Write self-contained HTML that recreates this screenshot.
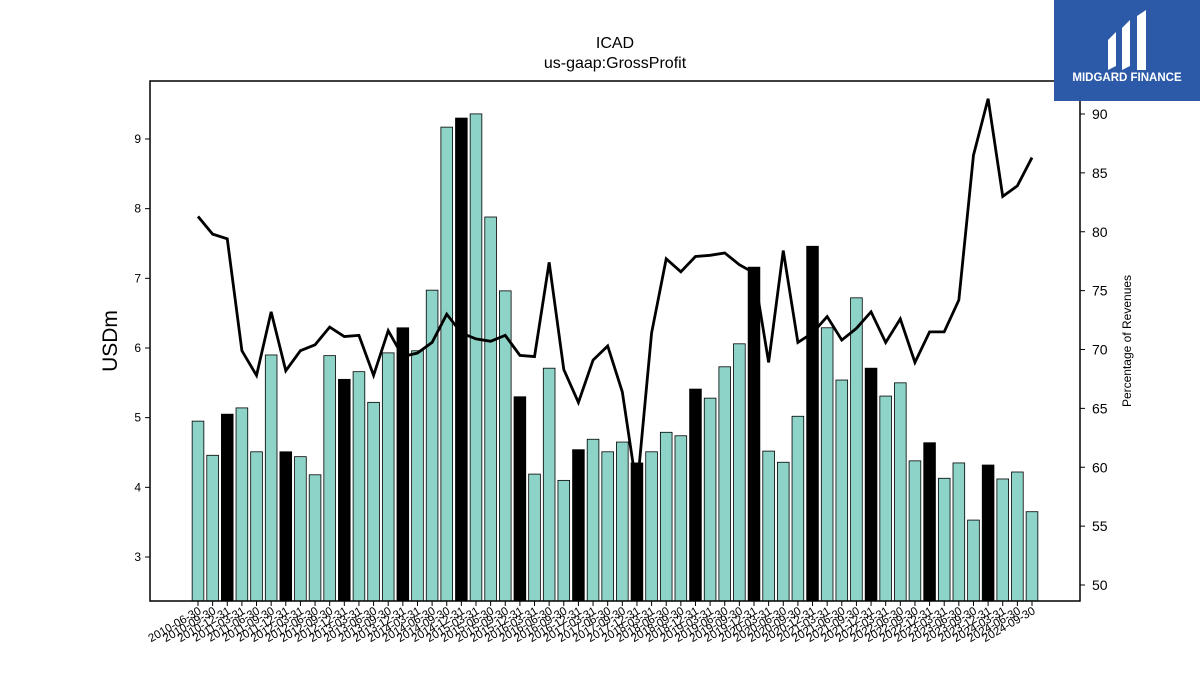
<!DOCTYPE html>
<html><head><meta charset="utf-8"><style>
body{margin:0;background:#fff;}
svg{font-family:"Liberation Sans","DejaVu Sans",sans-serif;}
</style></head><body>
<svg width="1200" height="675" viewBox="0 0 1200 675" xmlns="http://www.w3.org/2000/svg">
<text x="615" y="48" font-size="16" text-anchor="middle">ICAD</text>
<text x="615" y="68" font-size="16" text-anchor="middle">us-gaap:GrossProfit</text>
<g id="bars"></g>
<g id="line"></g>
<rect x="150" y="81" width="930" height="520" fill="none" stroke="#000" stroke-width="1.5"/>
<g id="ly"></g>
<g id="ry"></g>
<g id="xa"></g>
<text transform="translate(117,341) rotate(-90)" font-size="21" text-anchor="middle">USDm</text>
<text transform="translate(1131,341) rotate(-90)" font-size="12" text-anchor="middle">Percentage of Revenues</text>
<g>
<rect x="1054" y="0" width="146" height="101" fill="#2c5aa8"/>
<path d="M1108 40 L1116 32 L1116 66 L1108 70 Z M1122 28 L1130 20 L1130 66 L1122 70 Z M1137 16 L1146 10 L1146 70 L1137 70 Z" fill="#fff"/>
<text x="1127" y="81" font-size="11.5" font-weight="bold" fill="#fff" text-anchor="middle">MIDGARD FINANCE</text>
</g>
</svg>
<script>
const categories=["2010-06-30","2010-09-30","2010-12-31","2011-03-31","2011-06-30","2011-09-30","2011-12-31","2012-03-31","2012-06-30","2012-09-30","2012-12-31","2013-03-31","2013-06-30","2013-09-30","2013-12-31","2014-03-31","2014-06-30","2014-09-30","2014-12-31","2015-03-31","2015-06-30","2015-09-30","2015-12-31","2016-03-31","2016-06-30","2016-09-30","2016-12-31","2017-03-31","2017-06-30","2017-09-30","2017-12-31","2018-03-31","2018-06-30","2018-09-30","2018-12-31","2019-03-31","2019-06-30","2019-09-30","2019-12-31","2020-03-31","2020-06-30","2020-09-30","2020-12-31","2021-03-31","2021-06-30","2021-09-30","2021-12-31","2022-03-31","2022-06-30","2022-09-30","2022-12-31","2023-03-31","2023-06-30","2023-09-30","2023-12-31","2024-03-31","2024-06-30","2024-09-30"];
const grossProfit=[4.95,4.46,5.05,5.14,4.51,5.9,4.51,4.44,4.18,5.89,5.55,5.66,5.22,5.93,6.29,5.96,6.83,9.17,9.3,9.36,7.88,6.82,5.3,4.19,5.71,4.1,4.54,4.69,4.51,4.65,4.35,4.51,4.79,4.74,5.41,5.28,5.73,6.06,7.16,4.52,4.36,5.02,7.46,6.29,5.54,6.72,5.71,5.31,5.5,4.38,4.64,4.13,4.35,3.53,4.32,4.12,4.22,3.65];
const marginPct=[81.3,79.8,79.4,69.9,67.8,73.2,68.2,69.9,70.4,71.9,71.1,71.2,67.8,71.6,69.4,69.7,70.6,73.0,71.4,70.9,70.7,71.2,69.5,69.4,77.4,68.3,65.5,69.1,70.3,66.4,58.1,71.4,77.7,76.6,77.9,78.0,78.2,77.2,76.5,68.9,78.4,70.6,71.4,72.8,70.8,71.8,73.2,70.6,72.6,68.9,71.5,71.5,74.2,86.5,91.3,83.0,83.9,86.3];
const leftTicks=[3,4,5,6,7,8,9];
const rightTicks=[50,55,60,65,70,75,80,85,90];
const NS="http://www.w3.org/2000/svg";
const x0=198,x1=1032;
const xS=i=>x0+i*(x1-x0)/(categories.length-1);
const yL=v=>557-(v-3)*69.67;
const yR=p=>114+(90-p)*11.775;
const yBottom=601;
function mk(t,a,p){const e=document.createElementNS(NS,t);for(const k in a)e.setAttribute(k,a[k]);p.appendChild(e);return e;}
const bw=11.7;
const gb=document.getElementById('bars');
grossProfit.forEach((v,i)=>{
 const q4=categories[i].endsWith('12-31');
 const r=mk('rect',{x:xS(i)-bw/2,y:yL(v),width:bw,height:yBottom-yL(v),fill:q4?'#000':'#8dd3c7',stroke:'#000','stroke-width':0.8},gb);
 
 
});
const gl=document.getElementById('line');
const pl=mk('polyline',{points:marginPct.map((p,i)=>xS(i)+','+yR(p)).join(' '),fill:'none',stroke:'#000','stroke-width':2.8,'stroke-linejoin':'miter'},gl);


const ly=document.getElementById('ly');
leftTicks.forEach(v=>{
 mk('line',{x1:145,x2:150,y1:yL(v),y2:yL(v),stroke:'#000'},ly);
 const t=mk('text',{x:141,y:yL(v)+4,'font-size':12,'text-anchor':'end'},ly);t.textContent=v;
 
 
});
const ry=document.getElementById('ry');
rightTicks.forEach(v=>{
 mk('line',{x1:1080,x2:1085,y1:yR(v),y2:yR(v),stroke:'#000'},ry);
 const t=mk('text',{x:1092,y:yR(v)+5,'font-size':14},ry);t.textContent=v;
 
 
});
const xa=document.getElementById('xa');
categories.forEach((c,i)=>{
 const x=xS(i);
 mk('line',{x1:x,x2:x,y1:601,y2:606,stroke:'#000'},xa);
 const t=mk('text',{transform:`translate(${x+4},${613}) rotate(-30)`,'font-size':11.5,'text-anchor':'end'},xa);t.textContent=c;
 
 
});
</script>
</body></html>
